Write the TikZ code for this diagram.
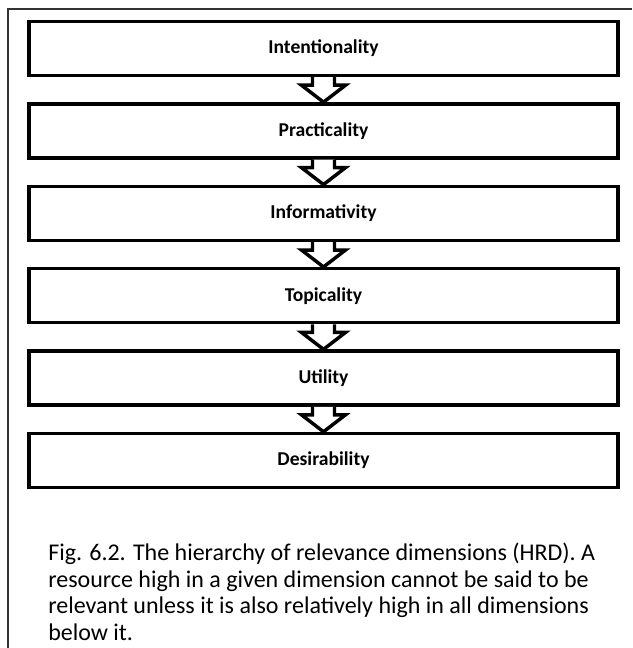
\documentclass[tikz,border=0pt]{standalone}
\usepackage{fontspec}
\setmainfont{Carlito}
\usetikzlibrary{calc}
\begin{document}
\begin{tikzpicture}[x=0.75pt,y=-0.75pt,
  level/.style={draw=black,line width=2.6pt,minimum width=589*0.75pt,minimum height=54*0.75pt,
    inner sep=0pt,font=\fontsize{14.7pt}{17pt}\selectfont\bfseries},
  frameline/.style={draw=black!80,line width=1.1pt},
  flow/.style={line width=2.6pt,line join=miter,line cap=butt}]
\useasboundingbox (0,0) rectangle (632,648);
\coordinate (ftl) at (8,9);
\coordinate (ftr) at (632,9);
\coordinate (fbl) at (8,648);
\draw[frameline] (ftr) -- (ftl) -- (fbl);
\foreach \n/\t [count=\i from 0] in {a/Intentionality,b/Practicality,c/Informativity,d/Topicality,e/Utility,f/Desirability}{
  \node[level] (\n) at (323.5,{48.5+82.4*\i}) {\t};
}
\foreach \u/\v in {a/b,b/c,c/d,d/e,e/f}{
  \fill[white] ($(\u.south)+(-11,0)$) -- ($(\u.south)+(-11,8)$) -- ($(\u.south)+(-22,8)$) -- (\v.north)
     -- ($(\u.south)+(22,8)$) -- ($(\u.south)+(11,8)$) -- ($(\u.south)+(11,0)$) -- cycle;
  \draw[flow] ($(\u.south)+(-11,0)$) -- ($(\u.south)+(-11,8)$) -- ($(\u.south)+(-22,8)$) -- (\v.north)
     -- ($(\u.south)+(22,8)$) -- ($(\u.south)+(11,8)$) -- ($(\u.south)+(11,0)$);
}
\node[anchor=north west,align=left,inner sep=0pt,font=\fontsize{18pt}{19.9pt}\selectfont] (cap) at (48,543)
 {Fig. 6.2. The hierarchy of relevance dimensions (HRD). A\\
 resource high in a given dimension cannot be said to be\\
 relevant unless it is also relatively high in all dimensions\\
 below it.};
\end{tikzpicture}
\end{document}
